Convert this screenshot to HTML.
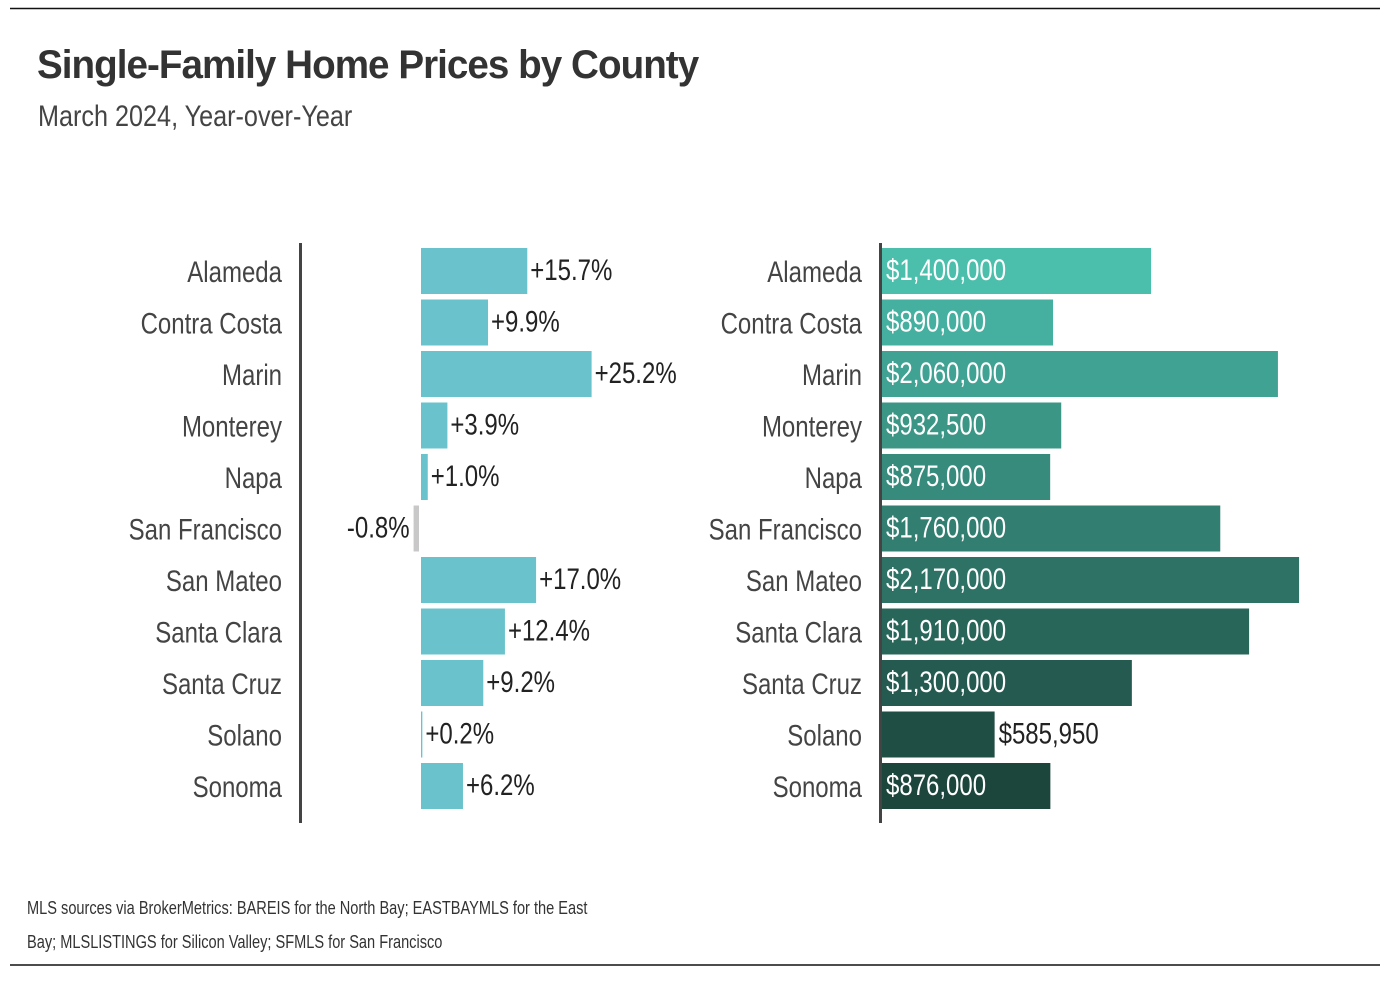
<!DOCTYPE html>
<html><head><meta charset="utf-8"><style>
body{margin:0;background:#fff;width:1390px;height:980px;overflow:hidden}
svg text{font-family:"Liberation Sans Narrow","Liberation Sans",sans-serif}
</style></head><body>
<svg id="chart" width="1390" height="980" xmlns="http://www.w3.org/2000/svg">
<line x1="10" y1="8.5" x2="1380" y2="8.5" stroke="#111" stroke-width="1.5"/>
<line x1="10" y1="965" x2="1380" y2="965" stroke="#111" stroke-width="1.5"/>
<text data-sx="0.965" x="37" y="78" font-size="40" font-weight="bold" fill="#333" style="font-family:'Liberation Sans',sans-serif;letter-spacing:-1px">Single-Family Home Prices by County</text>
<text data-sx="0.84" x="38" y="126" font-size="30" fill="#444">March 2024, Year-over-Year</text>
<text data-sx="0.81" x="27" y="914" font-size="18" fill="#333">MLS sources via BrokerMetrics: BAREIS for the North Bay; EASTBAYMLS for the East</text>
<text data-sx="0.81" x="27" y="948" font-size="18" fill="#333">Bay; MLSLISTINGS for Silicon Valley; SFMLS for San Francisco</text>
<g id="left"></g>
<g id="right"></g>
<line x1="300.5" y1="243" x2="300.5" y2="823" stroke="#444" stroke-width="3"/>
<line x1="880.5" y1="243" x2="880.5" y2="823" stroke="#444" stroke-width="3"/>
</svg>
<script>
const counties=["Alameda","Contra Costa","Marin","Monterey","Napa","San Francisco","San Mateo","Santa Clara","Santa Cruz","Solano","Sonoma"];
const yoyChange=[15.7,9.9,25.2,3.9,1.0,-0.8,17.0,12.4,9.2,0.2,6.2];
const medianPrice=[1400000,890000,2060000,932500,875000,1760000,2170000,1910000,1300000,585950,876000];
const priceColors=["#4cbfac","#45b09f","#40a293","#3b9686","#378b7c","#327e70","#2d7265","#29665a","#245a50","#1f4e45","#1c463c"];
const NS="http://www.w3.org/2000/svg";
const rowY=i=>248+i*51.5, barH=46;
const xPct=v=>421+v*6.77;
const xPrice=v=>882+v*1.922e-4;
function mk(tag,attrs,parent){const e=document.createElementNS(NS,tag);for(const k in attrs)e.setAttribute(k,attrs[k]);parent.appendChild(e);return e;}
const L=document.getElementById('left'),R=document.getElementById('right');
counties.forEach((c,i)=>{
  const y=rowY(i), cy=y+barH/2+11;
  let t=mk('text',{x:282,y:cy,'font-size':30,fill:'#444','text-anchor':'end','data-sx':0.8},L);t.textContent=c;
  
  
  const v=yoyChange[i];
  const x0=Math.min(xPct(0),xPct(v)), w=Math.abs(xPct(v)-xPct(0));
  let r=mk('rect',{x:v<0?x0-2:x0,y:y,width:Math.max(w,v<0?4:w),height:barH,fill:v<0?'#c8c8c8':'#6ac3cc'},L);
  
  
  const lbl=(v>0?'+':'')+v.toFixed(1)+'%';
  let lt=mk('text',{x:v<0?x0-6:xPct(v)+3,y:cy-2,'font-size':30,fill:'#222','text-anchor':v<0?'end':'start','data-sx':0.8},L);lt.textContent=lbl;
  
  
  let t2=mk('text',{x:862,y:cy,'font-size':30,fill:'#444','text-anchor':'end','data-sx':0.8},R);t2.textContent=c;
  
  
  const p=medianPrice[i], xe=xPrice(p);
  let r2=mk('rect',{x:882,y:y,width:xe-882,height:barH,fill:priceColors[i]},R);
  
  
  const s='$'+p.toLocaleString('en-US');
  const inside=(xe-882)>150;
  let pt=mk('text',{x:inside?886:xe+4,y:cy-2,'font-size':30,fill:inside?'#fff':'#222','data-sx':0.8},R);pt.textContent=s;
  
  
});
document.querySelectorAll('text[data-sx]').forEach(t=>{
  const len=t.getComputedTextLength();
  t.setAttribute('textLength',len*parseFloat(t.getAttribute('data-sx')));
  t.setAttribute('lengthAdjust','spacingAndGlyphs');
});
</script>
</body></html>
